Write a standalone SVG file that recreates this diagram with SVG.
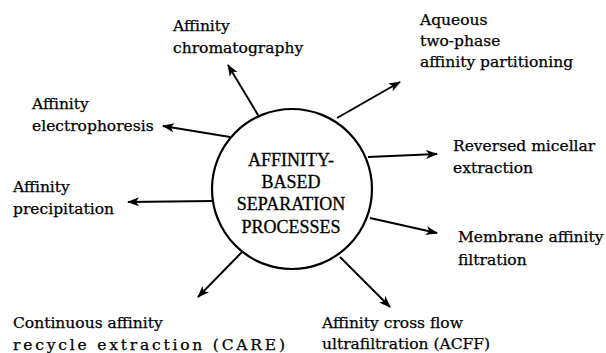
<svg xmlns="http://www.w3.org/2000/svg" width="606" height="353" viewBox="0 0 606 353">
<style>
.lbl{font-family:"DejaVu Serif","Liberation Serif",serif;font-size:15.5px;fill:#000;stroke:#000;stroke-width:0.25}
.ctr{font-family:"Liberation Serif","Times New Roman",serif;font-size:18px;fill:#000;stroke:#000;stroke-width:0.3;text-anchor:middle}
.edge{stroke:#000;stroke-width:2;fill:none;marker-end:url(#ah)}
</style>
<defs>
<marker id="ah" markerUnits="userSpaceOnUse" markerWidth="12" markerHeight="10" refX="11" refY="5" orient="auto">
<path d="M0,0.5 L12,5 L0,9.5 L3,5 Z" fill="#000"/>
</marker>
</defs>
<rect width="606" height="353" fill="#fff"/>
<g id="connectors">
<line class="edge" x1="258" y1="115" x2="228" y2="65"/>
<line class="edge" x1="230" y1="137" x2="163" y2="126"/>
<line class="edge" x1="337" y1="118" x2="400" y2="82"/>
<line class="edge" x1="368" y1="157" x2="437" y2="154"/>
<line class="edge" x1="213" y1="201" x2="128" y2="202"/>
<line class="edge" x1="370" y1="218" x2="437" y2="233"/>
<line class="edge" x1="242" y1="252" x2="198" y2="297"/>
<line class="edge" x1="340" y1="257" x2="390" y2="307"/>
</g>
<g id="center">
<circle cx="292" cy="189" r="80" fill="none" stroke="#000" stroke-width="2.2"/>
<text class="ctr" x="291" y="166">AFFINITY-</text>
<text class="ctr" x="291" y="188">BASED</text>
<text class="ctr" x="291" y="210">SEPARATION</text>
<text class="ctr" x="291" y="233">PROCESSES</text>
</g>
<g id="chromatography">
<text class="lbl" x="173" y="31">Affinity</text>
<text class="lbl" x="173" y="53">chromatography</text>
</g>
<g id="aqueous">
<text class="lbl" x="420" y="25">Aqueous</text>
<text class="lbl" x="420" y="46">two-phase</text>
<text class="lbl" x="420" y="67">affinity partitioning</text>
</g>
<g id="electrophoresis">
<text class="lbl" x="32" y="109">Affinity</text>
<text class="lbl" x="32" y="131">electrophoresis</text>
</g>
<g id="reversed">
<text class="lbl" x="453" y="151">Reversed micellar</text>
<text class="lbl" x="453" y="173">extraction</text>
</g>
<g id="precipitation">
<text class="lbl" x="13" y="192">Affinity</text>
<text class="lbl" x="13" y="214">precipitation</text>
</g>
<g id="membrane">
<text class="lbl" x="458" y="242">Membrane affinity</text>
<text class="lbl" x="458" y="265">filtration</text>
</g>
<g id="care">
<text class="lbl" x="13" y="328">Continuous affinity</text>
<text class="lbl" x="13" y="350" textLength="272" lengthAdjust="spacing">recycle extraction (CARE)</text>
</g>
<g id="acff">
<text class="lbl" x="322" y="328">Affinity cross flow</text>
<text class="lbl" x="322" y="349">ultrafiltration (ACFF)</text>
</g>
</svg>
